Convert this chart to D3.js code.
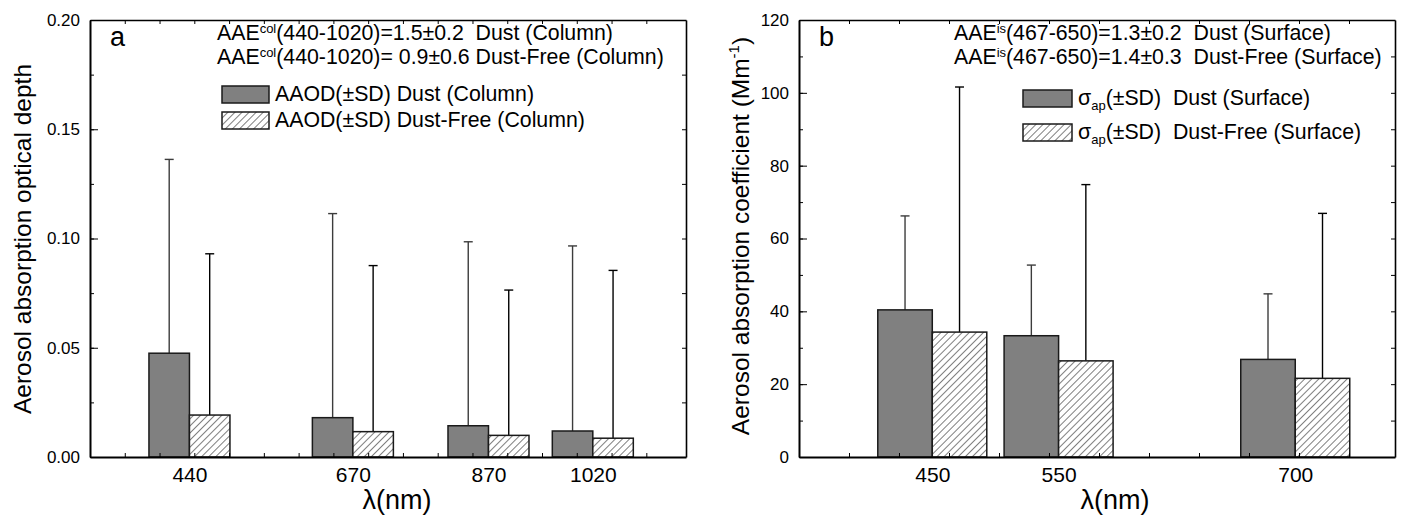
<!DOCTYPE html>
<head>
  <meta charset="utf-8">
  <script src="https://d3js.org/d3.v7.min.js"></script>
  <style>
    html, body { margin: 0; padding: 0; background: #ffffff; }
    text { font-family: 'Liberation Sans', Arial, sans-serif; fill: #000; white-space: pre; }
    .tickLabel text { font-size: 17px; fill: #000; }
    .xTickLabel text { font-size: 21px; fill: #000; }
    .axisTitle { font-size: 24.5px; }
    .xTitle { font-size: 27px; }
    .panelLetter { font-size: 27px; }
    .note { font-size: 21.3px; }
    .axis path, .axis line { stroke: #000; }
  </style>
</head>
<body>
<div id="chart"></div>
<script>

///////////////////////////////////////////////////////////////////////////
//////////////////////////// Data ///////////////////////
///////////////////////////////////////////////////////////////////////////

// (a) column AAOD, AERONET channels
const colLambda = [440, 675, 870, 1020];          // plotting positions
const colLabels = ["440", "670", "870", "1020"];
const aaodDust = [0.0475, 0.0180, 0.0143, 0.0119];
const aaodDustSD = [0.0887, 0.0934, 0.0842, 0.0847];
const aaodFree = [0.0192, 0.0116, 0.0099, 0.0086];
const aaodFreeSD = [0.0738, 0.0760, 0.0665, 0.0768];
const colYTicks = [0, 0.05, 0.10, 0.15, 0.20];

// (b) surface absorption coefficient
const surfLambda = [450, 537, 700];
const surfLabels = ["450", "550", "700"];
const sapDust = [40.4, 33.3, 26.8];
const sapDustSD = [25.8, 19.4, 18.0];
const sapFree = [34.3, 26.4, 21.6];
const sapFreeSD = [67.3, 48.4, 45.3];
const surfYTicks = [0, 20, 40, 60, 80, 100, 120];

///////////////////////////////////////////////////////////////////////////
//////////////////////////// Set up svg ///////////////////////////////////
///////////////////////////////////////////////////////////////////////////

const W = 1409, H = 517;
const plotTop = 20, plotBottom = 457;

const svg = d3.select("#chart").append("svg")
    .attr("width", W)
    .attr("height", H);

const defs = svg.append("defs");
const hatch = defs.append("pattern")
    .attr("id", "hatch")
    .attr("patternUnits", "userSpaceOnUse")
    .attr("width", 5)
    .attr("height", 5)
    .attr("patternTransform", "rotate(45)");
hatch.append("rect").attr("width", 5).attr("height", 5).attr("fill", "#fff");
hatch.append("line")
    .attr("x1", 0).attr("y1", 0).attr("x2", 0).attr("y2", 5)
    .attr("stroke", "#000").attr("stroke-width", 1);

// text with super/subscript pieces
function richText(g, x, y, parts, cls) {
  const t = g.append("text").attr("x", x).attr("y", y).attr("class", cls);
  let shift = 0;
  parts.forEach(p => {
    const want = p.sup ? -7 : p.sub ? 5 : 0;
    const ts = t.append("tspan").attr("dy", want - shift).text(p.t);
    if (p.sup || p.sub) ts.style("font-size", "13px");
    shift = want;
  });
  return t;
}

///////////////////////////////////////////////////////////////////////////
//////////////////////////// Draw one panel ///////////////////////////////
///////////////////////////////////////////////////////////////////////////

function drawPanel(cfg) {
  const g = svg.append("g");
  const x = d3.scaleLinear().domain(cfg.xDomain).range([cfg.left, cfg.right]);
  const y = d3.scaleLinear().domain(cfg.yDomain).range([plotBottom, plotTop]);

  const dust = cfg.pos.map((p, i) => ({ x: p, v: cfg.dust[i], sd: cfg.dustSD[i] }));
  const free = cfg.pos.map((p, i) => ({ x: p, v: cfg.free[i], sd: cfg.freeSD[i] }));
  const bw = cfg.barWidth;

  // error bars (upper only)
  function errorBars(data, dx, color) {
    const e = g.append("g").attr("stroke", color).attr("stroke-width", 1.4);
    e.selectAll("line.v").data(data).enter().append("line")
        .attr("x1", d => x(d.x) + dx).attr("x2", d => x(d.x) + dx)
        .attr("y1", d => y(d.v)).attr("y2", d => y(d.v + d.sd));
    e.selectAll("line.c").data(data).enter().append("line")
        .attr("x1", d => x(d.x) + dx - 4.5).attr("x2", d => x(d.x) + dx + 4.5)
        .attr("y1", d => y(d.v + d.sd)).attr("y2", d => y(d.v + d.sd));
  }
  errorBars(dust, -bw / 2, "#3c3c3c");
  errorBars(free, bw / 2, "#000");

  g.selectAll(".dust").data(dust).enter().append("rect")
      .attr("x", d => x(d.x) - bw)
      .attr("y", d => y(d.v))
      .attr("width", bw)
      .attr("height", d => plotBottom - y(d.v))
      .attr("fill", "#808080")
      .attr("stroke", "#1a1a1a")
      .attr("stroke-width", 1.5);

  g.selectAll(".free").data(free).enter().append("rect")
      .attr("x", d => x(d.x))
      .attr("y", d => y(d.v))
      .attr("width", bw)
      .attr("height", d => plotBottom - y(d.v))
      .attr("fill", "url(#hatch)")
      .attr("stroke", "#1a1a1a")
      .attr("stroke-width", 1.5);

  // axes - Origin style, ticks pointing in, mirrored on top/right
  const minorY = d3.range(cfg.yDomain[0], cfg.yDomain[1] + 1e-9, cfg.yMinor);
  g.append("g").attr("class", "axis tickLabel")
      .attr("transform", `translate(${cfg.left},0)`)
      .call(d3.axisLeft(y).tickValues(cfg.yTicks).tickSize(-8).tickSizeOuter(0)
        .tickPadding(10).tickFormat(cfg.yFormat))
      .call(s => s.select(".domain").attr("stroke-width", 2));
  g.append("g").attr("class", "axis")
      .attr("transform", `translate(${cfg.left},0)`)
      .call(d3.axisLeft(y).tickValues(minorY).tickSize(-4).tickSizeOuter(0).tickFormat(""))
      .call(s => s.select(".domain").remove());
  g.append("g").attr("class", "axis")
      .attr("transform", `translate(${cfg.right},0)`)
      .call(d3.axisRight(y).tickValues(minorY).tickSize(-4).tickSizeOuter(0).tickFormat(""))
      .call(s => s.select(".domain").attr("stroke-width", 1.6));

  const minorX = d3.range(1, cfg.xMinorCount).map(i => x.invert(cfg.left + i * cfg.xMinorPx));
  g.append("g").attr("class", "axis")
      .attr("transform", `translate(0,${plotBottom})`)
      .call(d3.axisBottom(x).tickValues(minorX).tickSize(-4).tickSizeOuter(0).tickFormat(""))
      .call(s => s.select(".domain").attr("stroke-width", 2));
  g.append("g").attr("class", "axis")
      .attr("transform", `translate(0,${plotTop})`)
      .call(d3.axisTop(x).tickValues(minorX).tickSize(-4).tickSizeOuter(0).tickFormat(""))
      .call(s => s.select(".domain").attr("stroke-width", 1.6));
  g.append("g").attr("class", "axis xTickLabel")
      .attr("transform", `translate(0,${plotBottom})`)
      .call(d3.axisBottom(x).tickValues(cfg.pos).tickSize(0).tickPadding(10)
        .tickFormat((d, i) => cfg.labels[i]))
      .call(s => s.select(".domain").remove());

  // titles
  const yt = g.append("text").attr("class", "axisTitle")
      .attr("text-anchor", "middle")
      .attr("transform", `translate(${cfg.yTitleX},${cfg.yTitleY}) rotate(-90)`);
  let shift = 0;
  cfg.yTitle.forEach(p => {
    const want = p.sup ? -10 : 0;
    const ts = yt.append("tspan").attr("dy", want - shift).text(p.t);
    if (p.sup) ts.style("font-size", "15px");
    shift = want;
  });

  g.append("text").attr("class", "xTitle")
      .attr("x", cfg.xTitleX).attr("y", 509)
      .attr("text-anchor", "middle")
      .text("λ(nm)");

  g.append("text").attr("class", "panelLetter")
      .attr("x", cfg.left + 20).attr("y", 46)
      .text(cfg.letter);

  // annotation + legend
  richText(g, cfg.noteX, 39.5, cfg.note1, "note");
  richText(g, cfg.noteX, 63.5, cfg.note2, "note");

  cfg.legend.forEach((item, i) => {
    const ly = cfg.legendY[i];
    g.append("rect")
        .attr("x", cfg.legendX).attr("y", ly)
        .attr("width", cfg.legendW).attr("height", 17)
        .attr("fill", i === 0 ? "#808080" : "url(#hatch)")
        .attr("stroke", "#1a1a1a").attr("stroke-width", 1.5);
    richText(g, cfg.legendX + cfg.legendW + 6, ly + 15, item, "note");
  });
}

///////////////////////////////////////////////////////////////////////////
//////////////////////////// Panels ///////////////////////////////////////
///////////////////////////////////////////////////////////////////////////

drawPanel({
  letter: "a",
  left: 90, right: 686,
  xDomain: [297, 1154],
  xMinorPx: 34.77, xMinorCount: 17,
  yDomain: [0, 0.2], yTicks: colYTicks, yMinor: 0.025,
  yFormat: d3.format(".2f"),
  pos: colLambda, labels: colLabels,
  dust: aaodDust, dustSD: aaodDustSD, free: aaodFree, freeSD: aaodFreeSD,
  barWidth: 40.5,
  yTitleX: 31, yTitleY: 239,
  yTitle: [{ t: "Aerosol absorption optical depth" }],
  xTitleX: 397,
  noteX: 217,
  note1: [{ t: "AAE" }, { t: "col", sup: true }, { t: "(440-1020)=1.5±0.2  Dust (Column)" }],
  note2: [{ t: "AAE" }, { t: "col", sup: true }, { t: "(440-1020)= 0.9±0.6 Dust-Free (Column)" }],
  legendX: 222, legendW: 47, legendY: [86, 112],
  legend: [
    [{ t: "AAOD(±SD) Dust (Column)" }],
    [{ t: "AAOD(±SD) Dust-Free (Column)" }]
  ]
});

drawPanel({
  letter: "b",
  left: 799, right: 1395,
  xDomain: [358.2, 768.7],
  xMinorPx: 50, xMinorCount: 12,
  yDomain: [0, 120], yTicks: surfYTicks, yMinor: 10,
  yFormat: d3.format("d"),
  pos: surfLambda, labels: surfLabels,
  dust: sapDust, dustSD: sapDustSD, free: sapFree, freeSD: sapFreeSD,
  barWidth: 54.5,
  yTitleX: 749, yTitleY: 236,
  yTitle: [{ t: "Aerosol absorption coefficient (Mm" }, { t: "-1", sup: true }, { t: ")" }],
  xTitleX: 1115,
  noteX: 954,
  note1: [{ t: "AAE" }, { t: "is", sup: true }, { t: "(467-650)=1.3±0.2  Dust (Surface)" }],
  note2: [{ t: "AAE" }, { t: "is", sup: true }, { t: "(467-650)=1.4±0.3  Dust-Free (Surface)" }],
  legendX: 1023, legendW: 49, legendY: [90, 124],
  legend: [
    [{ t: "σ" }, { t: "ap", sub: true }, { t: "(±SD)  Dust (Surface)" }],
    [{ t: "σ" }, { t: "ap", sub: true }, { t: "(±SD)  Dust-Free (Surface)" }]
  ]
});

</script>
</body>
